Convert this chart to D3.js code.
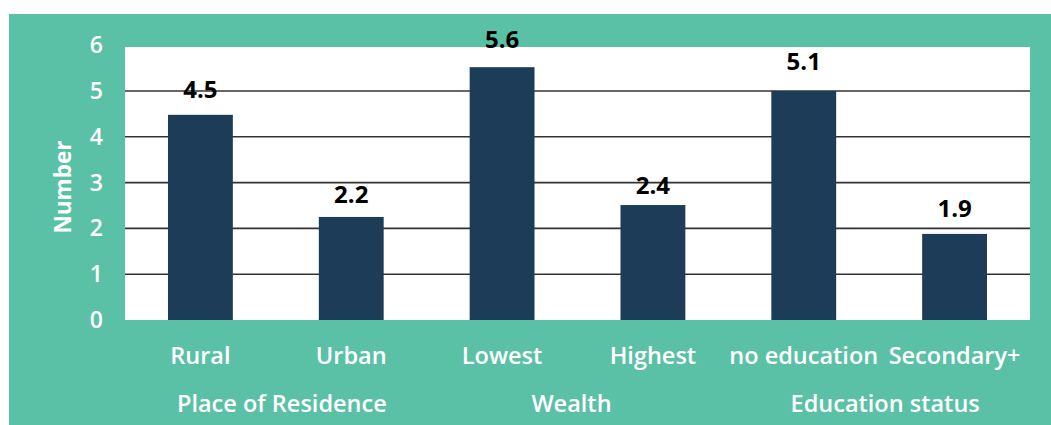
<!DOCTYPE html>
<html>
<head>
<meta charset="utf-8">
<script src="https://cdn.jsdelivr.net/npm/d3@7"></script>
<style>
  body { margin: 0; background: #fff; }
  text { font-family: "Open Sans", sans-serif; }
</style>
</head>
<body>
<script>
var width = 1051;
var height = 425;

// categories, bar heights as drawn, printed values, groups
var categories = ["Rural", "Urban", "Lowest", "Highest", "no education", "Secondary+"];
var barValues = [4.48, 2.25, 5.52, 2.51, 5.0, 1.88];
var labelValues = [4.5, 2.2, 5.6, 2.4, 5.1, 1.9];
var groups = ["Place of Residence", "Wealth", "Education status"];
var yTicks = [0, 1, 2, 3, 4, 5, 6];

var teal = "#5bc1a6";
var navy = "#1d3c58";

var plot = {left: 125, right: 1030, top: 47, bottom: 320};

var svg = d3.select("body").append("svg")
    .attr("width", width)
    .attr("height", height);

// teal panel
svg.append("rect")
    .attr("x", 9).attr("y", 14)
    .attr("width", width - 9).attr("height", height - 14)
    .attr("fill", teal);

// white plot area
svg.append("rect")
    .attr("x", plot.left).attr("y", plot.top)
    .attr("width", plot.right - plot.left).attr("height", plot.bottom - plot.top)
    .attr("fill", "#fff");

var x = d3.scaleBand()
    .domain(categories)
    .range([plot.left, plot.right])
    .paddingInner(0.57)
    .paddingOuter(0.285);

var y = d3.scaleLinear()
    .domain([0, 6])
    .range([plot.bottom, plot.bottom - 6 * 45.8]);

// gridlines 1..5
svg.append("g")
    .selectAll("line")
    .data(yTicks.filter(function(d) { return d > 0 && d < 6; }))
    .enter().append("line")
    .attr("x1", plot.left).attr("x2", plot.right)
    .attr("y1", function(d) { return y(d); })
    .attr("y2", function(d) { return y(d); })
    .attr("stroke", "#333")
    .attr("stroke-width", 1.6);

// bars
svg.append("g")
    .selectAll("rect")
    .data(categories)
    .enter().append("rect")
    .attr("x", function(d) { return x(d); })
    .attr("width", x.bandwidth())
    .attr("y", function(d, i) { return y(barValues[i]); })
    .attr("height", function(d, i) { return plot.bottom - y(barValues[i]); })
    .attr("fill", navy);

// value labels
svg.append("g")
    .selectAll("text")
    .data(categories)
    .enter().append("text")
    .attr("x", function(d) { return x(d) + x.bandwidth() / 2; })
    .attr("y", function(d, i) { return y(labelValues[i]) - 16; })
    .attr("text-anchor", "middle")
    .attr("font-size", 24)
    .attr("font-weight", 700)
    .attr("fill", "#000")
    .text(function(d, i) { return labelValues[i].toFixed(1); });

// y tick labels
svg.append("g")
    .selectAll("text")
    .data(yTicks)
    .enter().append("text")
    .attr("x", 103)
    .attr("y", function(d) { return y(d) + 8; })
    .attr("text-anchor", "end")
    .attr("font-size", 23)
    .attr("font-weight", 600)
    .attr("fill", "#fff")
    .text(function(d) { return d; });

// y title
svg.append("text")
    .attr("transform", "translate(71,187) rotate(-90)")
    .attr("text-anchor", "middle")
    .attr("font-size", 22.5)
    .attr("font-weight", 700)
    .attr("fill", "#fff")
    .text("Number");

// category labels
svg.append("g")
    .selectAll("text")
    .data(categories)
    .enter().append("text")
    .attr("x", function(d) { return x(d) + x.bandwidth() / 2; })
    .attr("y", 364)
    .attr("text-anchor", "middle")
    .attr("font-size", 23.5)
    .attr("font-weight", 600)
    .attr("fill", "#fff")
    .text(function(d) { return d; });

// group labels, centred on each pair of categories (small nudge each)
var nudge = [6, -6, 6];
svg.append("g")
    .selectAll("text")
    .data(groups)
    .enter().append("text")
    .attr("x", function(d, i) {
        var a = x(categories[i * 2]) + x.bandwidth() / 2;
        var b = x(categories[i * 2 + 1]) + x.bandwidth() / 2;
        return (a + b) / 2 + nudge[i];
    })
    .attr("y", 412)
    .attr("text-anchor", "middle")
    .attr("font-size", 23.5)
    .attr("font-weight", 600)
    .attr("fill", "#fff")
    .text(function(d) { return d; });
</script>
</body>
</html>
